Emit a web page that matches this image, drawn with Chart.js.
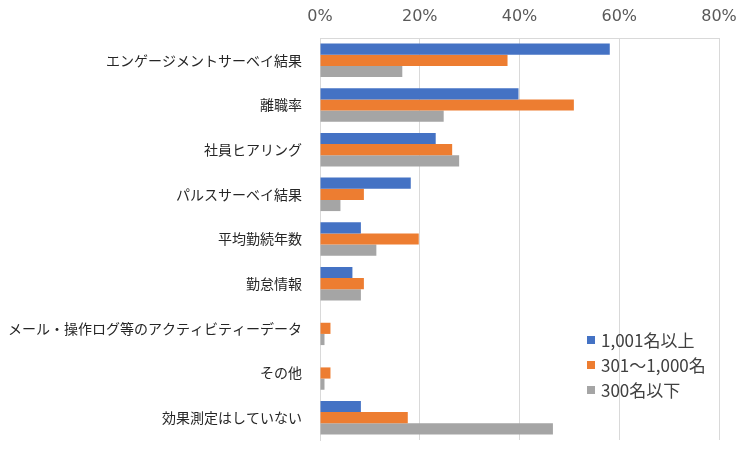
<!DOCTYPE html>
<html>
<head>
<meta charset="utf-8">
<script src="https://cdn.jsdelivr.net/npm/chart.js@4/dist/chart.umd.min.js"></script>
<style>
  html, body { margin: 0; padding: 0; background: #fff; }
  #wrap { width: 750px; height: 452px; }
</style>
</head>
<body>
<div id="wrap"><canvas id="chart" width="750" height="452"></canvas></div>
<script>
const categories = [
    'エンゲージメントサーベイ結果',
    '離職率',
    '社員ヒアリング',
    'パルスサーベイ結果',
    '平均勤続年数',
    '勤怠情報',
    'メール・操作ログ等のアクティビティーデータ',
    'その他',
    '効果測定はしていない'
]
const seriesNames = ['1,001名以上', '301～1,000名', '300名以下']
const large = [58.1, 39.8, 23.2, 18.2, 8.2, 6.5, 0, 0, 8.2]
const middle = [37.6, 50.9, 26.5, 8.8, 19.8, 8.8, 2.1, 2.1, 17.6]
const small = [16.5, 24.8, 27.9, 4.1, 11.3, 8.2, 0.9, 0.9, 46.7]
const xTicks = [0, 20, 40, 60, 80]

const colors = ['#4472C4', '#ED7D31', '#A5A5A5']
const gridColor = '#D9D9D9'

// legend drawn inside the plot, lower right
const insideLegend = {
    id: 'insideLegend',
    afterDraw(chart) {
        const ctx = chart.ctx
        ctx.save()
        ctx.font = '17px "Noto Sans CJK JP", sans-serif'
        ctx.textBaseline = 'middle'
        chart.data.datasets.forEach((ds, i) => {
            const y = 340 + i * 25
            ctx.fillStyle = ds.backgroundColor
            ctx.fillRect(587, y - 4, 8, 8)
            ctx.fillStyle = '#404040'
            ctx.fillText(ds.label, 601, y + 1)
        })
        ctx.restore()
    }
}

const ctx = document.getElementById('chart')
new Chart(ctx, {
    type: 'bar',
    data: {
        labels: categories,
        datasets: [large, middle, small].map((vals, i) => ({
            label: seriesNames[i],
            data: vals,
            backgroundColor: colors[i],
            categoryPercentage: 0.75,
            barPercentage: 1.0
        }))
    },
    options: {
        indexAxis: 'y',
        responsive: false,
        animation: false,
        layout: { padding: { left: 0, right: 31, top: 0, bottom: 12 } },
        plugins: {
            legend: { display: false },
            tooltip: { enabled: false }
        },
        scales: {
            x: {
                position: 'top',
                min: 0,
                max: 80,
                afterBuildTicks: scale => {
                    scale.ticks = xTicks.map(v => ({ value: v }))
                },
                afterFit: scale => { scale.height = 38 },
                grid: { color: gridColor, drawTicks: false },
                border: { color: gridColor },
                ticks: {
                    padding: 12,
                    color: '#595959',
                    font: { family: 'DejaVu Sans', size: 16 },
                    callback: v => v + '%'
                }
            },
            y: {
                afterFit: scale => { scale.width = 320 },
                grid: {
                    display: true,
                    drawOnChartArea: false,
                    tickColor: 'rgba(0,0,0,0)',
                    tickLength: 18
                },
                border: { color: gridColor },
                ticks: {
                    padding: 0,
                    color: '#262626',
                    font: { family: '"Noto Sans CJK JP"', size: 14 }
                }
            }
        }
    },
    plugins: [insideLegend]
})
</script>
</body>
</html>
